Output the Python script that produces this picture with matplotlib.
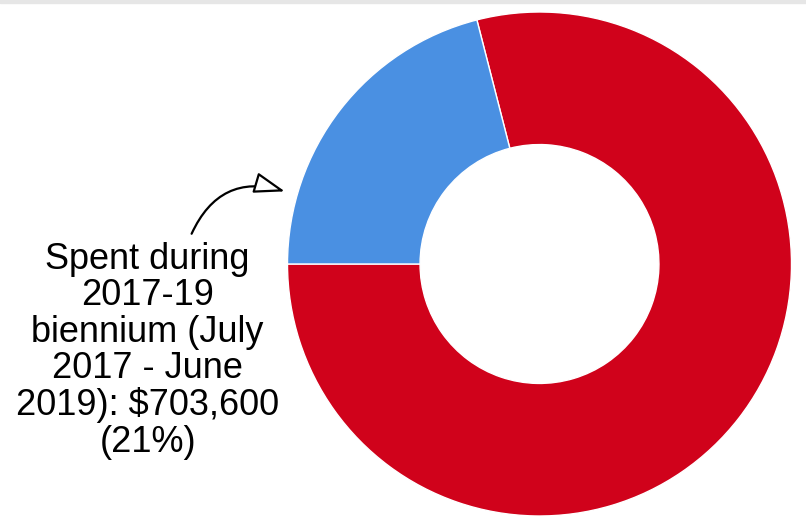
import matplotlib.pyplot as plt
from matplotlib.patches import Rectangle

plt.rcParams['font.family'] = ['Liberation Sans', 'DejaVu Sans']

labels = ['Remaining', 'Spent during 2017-19 biennium']
amounts = [2646400, 703600]
colors = ['#d0021b', '#4a90e2']

note = 'Spent during\n2017-19\nbiennium (July\n2017 - June\n2019): $703,600\n(21%)'

fig = plt.figure(figsize=(8.06, 5.19), dpi=100)
ax = fig.add_axes([0, 0, 1, 1])

ax.pie(amounts, colors=colors, startangle=180, counterclock=True,
       radius=1.0, wedgeprops=dict(width=0.526, edgecolor='white', linewidth=1))

# map data units to pixels: centre at (539.5, 264), radius 252 px
ax.set_xlim(-539.5 / 252, 266.5 / 252)
ax.set_ylim(-255 / 252, 264 / 252)
ax.set_aspect('auto')
ax.axis('off')

ax.annotate('', xy=(-1.0, 0.285), xytext=(-1.385, 0.11),
            arrowprops=dict(arrowstyle='-|>,head_length=1.9,head_width=0.65',
                            connectionstyle='arc3,rad=-0.45',
                            fc='white', ec='black', lw=1.6))
ax.text(-1.555, -0.345, note, ha='center', va='center', fontsize=26,
        linespacing=1.05, color='black')

fig.patches.append(Rectangle((0, 1 - 3 / 519), 1, 3 / 519, transform=fig.transFigure,
                             color='#e6e6e6', zorder=0))

fig.savefig('out.png', dpi=100)
